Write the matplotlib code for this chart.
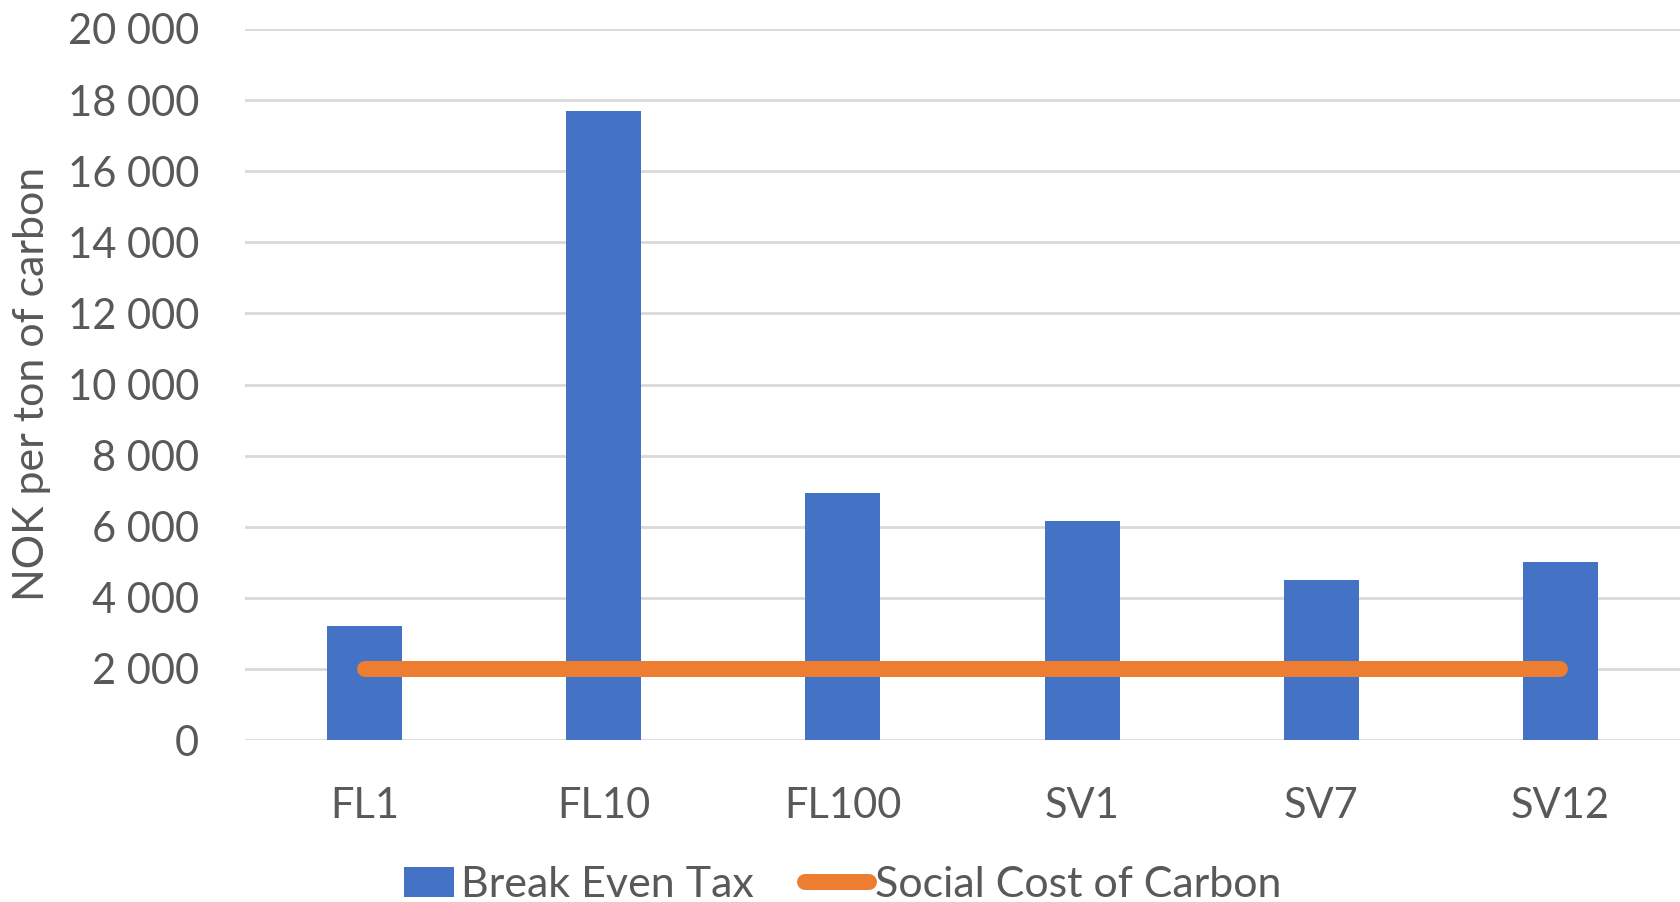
#!/usr/bin/env python3
"""Break-even carbon tax per case, compared with the social cost of carbon."""

import matplotlib

matplotlib.use("Agg")

import matplotlib.pyplot as plt
import numpy as np
from matplotlib.container import BarContainer
from matplotlib.legend_handler import HandlerPatch, update_from_first_child
from matplotlib.patches import Rectangle
from matplotlib.ticker import FuncFormatter, MultipleLocator

plt.rcParams["font.family"] = ["Lato", "DejaVu Sans"]

CASES = ["FL1", "FL10", "FL100", "SV1", "SV7", "SV12"]
BREAK_EVEN_TAX = [3200, 17700, 6950, 6150, 4500, 5000]
SOCIAL_COST = [2000, 2000, 2000, 2000, 2000, 2000]

BAR_COLOR = "#4472C4"
LINE_COLOR = "#ED7D31"
TEXT_COLOR = "#595959"
GRID_COLOR = "#D9D9D9"
FONT_SIZE = 30
LEGEND_SIZE = 31

W, H = 1680, 902
fig = plt.figure(figsize=(W / 100, H / 100), dpi=100)
ax = fig.add_axes([245 / W, 1 - 740 / H, 1 - 245 / W, (740 - 29) / H])

x = np.arange(len(CASES))
bars = ax.bar(x, BREAK_EVEN_TAX, width=0.314, color=BAR_COLOR, zorder=2, label="Break Even Tax")
(line,) = ax.plot(
    x, SOCIAL_COST, color=LINE_COLOR, linewidth=11.5, solid_capstyle="round", zorder=3,
    label="Social Cost of Carbon",
)

ax.set_xlim(-0.5, len(CASES) - 0.5)
ax.set_ylim(0, 20000)
ax.yaxis.set_major_locator(MultipleLocator(2000))
ax.yaxis.set_major_formatter(FuncFormatter(lambda v, _: f"{v:,.0f}".replace(",", " ")))
ax.set_xticks(x)
ax.set_xticklabels(CASES)

ax.grid(axis="y", color=GRID_COLOR, linewidth=2, zorder=0)
ax.set_axisbelow(True)
for spine in ax.spines.values():
    spine.set_visible(False)
ax.tick_params(axis="both", length=0, labelsize=FONT_SIZE, labelcolor=TEXT_COLOR)
ax.tick_params(axis="y", pad=33)
ax.tick_params(axis="x", pad=34)

fig.text(32 / W, 1 - 384 / H, "NOK per ton of carbon", rotation=90, ha="center", va="center",
         fontsize=31, color=TEXT_COLOR)


def narrow_square(legend, orig_handle, xdescent, ydescent, width, height, fontsize):
    # a legend box narrower than the line handle, flush against its label
    box_w = 36
    return Rectangle((width - box_w - xdescent, -ydescent), box_w, height)


fig.legend(
    handles=[bars, line],
    loc="center",
    bbox_to_anchor=(836 / W, 1 - 885 / H),
    ncol=2,
    frameon=False,
    fontsize=LEGEND_SIZE,
    labelcolor=TEXT_COLOR,
    handlelength=1.48,
    handleheight=0.72,
    handletextpad=0.15,
    columnspacing=1.2,
    borderaxespad=0,
    handler_map={
        BarContainer: HandlerPatch(patch_func=narrow_square, update_func=update_from_first_child)
    },
)

fig.savefig("out.png", dpi=100)
